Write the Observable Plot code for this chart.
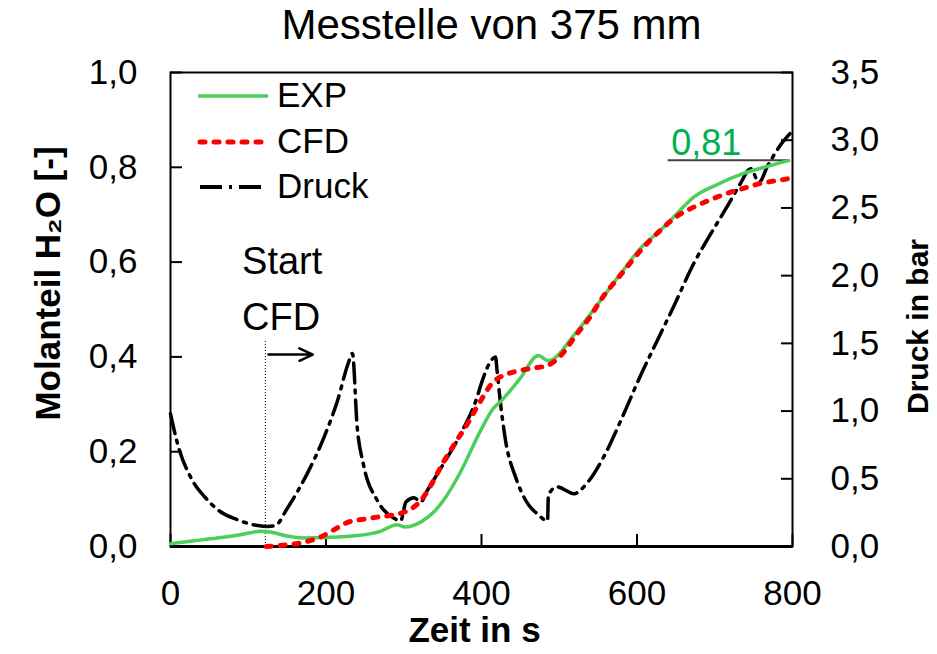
<!DOCTYPE html>
<html>
<head>
<meta charset="utf-8">
<script src="https://cdn.jsdelivr.net/npm/d3@7"></script>
<script src="https://cdn.jsdelivr.net/npm/@observablehq/plot@0.6"></script>
<style>
  html, body { margin: 0; padding: 0; background: #fff; }
  body { font-family: "Liberation Sans", Arial, sans-serif; }
  #wrap { position: relative; width: 937px; height: 654px; overflow: hidden; }
  #title { height: 50px; line-height: 50px; font-size: 42px; text-align: center; width: 937px; position: relative; left: 23px; color: #000; }
  #legend { position: absolute; left: 0; top: 0; pointer-events: none; }
</style>
</head>
<body>
<div id="wrap">
  <div id="title">Messtelle von 375 mm</div>
  <div id="chart"></div>
  <svg id="legend" width="937" height="654"></svg>
</div>
<script>
// ---- Data ----
const titleText = "Messtelle von 375 mm";
const xLabel = "Zeit in s";
const yLabel = "Molanteil H\u2082O [-]";
const y2Label = "Druck in bar";

const xTicks = [0, 200, 400, 600, 800];
const yTicks = [0, 0.2, 0.4, 0.6, 0.8, 1.0];
const pressureTicks = [0, 0.5, 1.0, 1.5, 2.0, 2.5, 3.0, 3.5];
const pressureMax = 3.5;

// EXP (measured mole fraction H2O)
const expTime = [0, 30, 60, 90, 116, 130, 150, 171, 200, 240, 270, 291, 302, 315, 325, 340, 351, 372, 399, 415, 424, 450, 473, 486, 520, 553, 580, 605, 630, 650, 673, 705, 737, 770, 795];
const expValue = [0.006, 0.012, 0.018, 0.025, 0.032, 0.030, 0.022, 0.018, 0.019, 0.023, 0.032, 0.046, 0.041, 0.046, 0.055, 0.075, 0.097, 0.154, 0.245, 0.291, 0.305, 0.355, 0.403, 0.392, 0.448, 0.519, 0.578, 0.630, 0.667, 0.700, 0.737, 0.765, 0.787, 0.803, 0.814];

// CFD (simulated mole fraction H2O)
const cfdTime = [123, 141, 171, 193, 210, 228, 250, 266, 296, 310, 322, 337, 351, 366, 382, 398, 415, 430, 446, 465, 485, 502, 523, 540, 553, 580, 605, 630, 650, 673, 695, 716, 740, 759, 780, 795];
const cfdValue = [0.000, 0.002, 0.009, 0.020, 0.035, 0.051, 0.058, 0.062, 0.070, 0.080, 0.097, 0.135, 0.178, 0.218, 0.259, 0.305, 0.347, 0.362, 0.370, 0.376, 0.382, 0.403, 0.449, 0.485, 0.519, 0.575, 0.625, 0.667, 0.695, 0.716, 0.732, 0.745, 0.757, 0.766, 0.772, 0.776];

// Druck (pressure, bar, right axis)
const druckTime = [0, 9, 28, 45, 62, 85, 112, 125, 135, 150, 176, 197, 215, 229, 234, 240, 248, 266, 287, 296, 303, 313, 322, 330, 351, 373, 395, 399, 415, 418, 420, 424, 431, 444, 459, 472, 485, 486, 497, 519, 536, 557, 583, 602, 626, 647, 673, 695, 720, 733, 746, 757, 768, 784, 797];
const druckBar = [0.98, 0.76, 0.49, 0.36, 0.266, 0.20, 0.155, 0.148, 0.155, 0.28, 0.54, 0.80, 1.08, 1.36, 1.425, 0.89, 0.61, 0.34, 0.21, 0.19, 0.33, 0.36, 0.33, 0.41, 0.61, 0.83, 1.115, 1.19, 1.39, 1.40, 1.30, 1.08, 0.78, 0.51, 0.32, 0.24, 0.19, 0.38, 0.44, 0.39, 0.47, 0.66, 0.98, 1.23, 1.52, 1.77, 2.09, 2.31, 2.55, 2.68, 2.79, 2.69, 2.81, 2.96, 3.05];

// Annotations
const startCfdTime = 122;
const startCfdTop = 0.435;
const startCfdText = ["Start", "CFD"];
const startCfdTextTime = [92, 92];
const startCfdTextValue = [0.600, 0.483];
const arrowFrom = 126, arrowTo = 183, arrowValue = 0.405;
const endLabel = "0,81";
const endLineFrom = 640, endLineTo = 797, endLineValue = 0.815;
const endLabelTime = 644, endLabelValue = 0.850;

// Legend
const legendNames = ["EXP", "CFD", "Druck"];

// ---- Build ----
const fmt1 = d => d.toFixed(1).replace(".", ",");
const exp = expTime.map((t, i) => ({t, v: expValue[i]}));
const cfd = cfdTime.map((t, i) => ({t, v: cfdValue[i]}));
const druck = druckTime.map((t, i) => ({t, v: druckBar[i] / pressureMax}));

const GREEN = "#4ccf5a", RED = "#ff0000", BLACK = "#000000";
const redDash = "5,9", blackDash = "20,7,3,7";

const chart = Plot.plot({
  width: 937,
  height: 604,
  marginTop: 22,
  marginBottom: 108,
  marginLeft: 170,
  marginRight: 145,
  style: {fontFamily: "'Liberation Sans', Arial, sans-serif", fontSize: "35px", color: "#000", background: "#fff", overflow: "visible"},
  x: {domain: [0, 800]},
  y: {domain: [0, 1]},
  marks: [
    Plot.axisX({ticks: xTicks, tickSize: -12, tickPadding: 46, tickFormat: d => String(d), label: null, strokeWidth: 2, fontSize: 35}),
    Plot.axisY({anchor: "left", ticks: yTicks, tickSize: -12, tickPadding: 45, tickFormat: fmt1, label: null, strokeWidth: 2, fontSize: 35}),
    Plot.axisY({anchor: "right", ticks: pressureTicks.map(p => p / pressureMax), tickSize: -12, tickPadding: 50, tickFormat: d => fmt1(d * pressureMax), label: null, strokeWidth: 2, fontSize: 35}),
    Plot.frame({stroke: "#000", strokeWidth: 2}),
    Plot.ruleY([0], {stroke: "#000", strokeWidth: 3}),
    // Start CFD marker
    Plot.ruleX([startCfdTime], {y1: 0, y2: startCfdTop, stroke: "#000", strokeWidth: 1, strokeDasharray: "1,2"}),
    Plot.arrow([{x1: arrowFrom, x2: arrowTo, y: arrowValue}], {x1: "x1", x2: "x2", y1: "y", y2: "y", stroke: "#000", strokeWidth: 2.5, headLength: 12, headAngle: 50}),
    Plot.text(startCfdText, {x: (d, i) => startCfdTextTime[i], y: (d, i) => startCfdTextValue[i], text: d => d, textAnchor: "start", lineAnchor: "middle", fontSize: 38, fill: "#000"}),
    // End value annotation
    Plot.ruleY([endLineValue], {x1: endLineFrom, x2: endLineTo, stroke: "#404040", strokeWidth: 2}),
    Plot.text([endLabel], {x: endLabelTime, y: endLabelValue, text: d => d, textAnchor: "start", lineAnchor: "middle", fontSize: 36, fill: "#00b050"}),
    // Series
    Plot.line(druck, {x: "t", y: "v", stroke: BLACK, strokeWidth: 3.5, strokeDasharray: blackDash, curve: "monotone-x"}),
    Plot.line(exp, {x: "t", y: "v", stroke: GREEN, strokeWidth: 3.5, curve: "monotone-x"}),
    Plot.line(cfd, {x: "t", y: "v", stroke: RED, strokeWidth: 5, strokeDasharray: redDash, strokeLinecap: "round", curve: "monotone-x"}),
    // Axis titles
    Plot.text([xLabel], {frameAnchor: "bottom", dx: -7, dy: 71, textAnchor: "middle", lineAnchor: "top", fontWeight: "bold", fontSize: 35, text: d => d}),
    Plot.text([yLabel], {frameAnchor: "left", dx: -122, dy: -26, rotate: -90, textAnchor: "middle", lineAnchor: "middle", fontWeight: "bold", fontSize: 35, text: d => d}),
    Plot.text([y2Label], {frameAnchor: "right", dx: 126, dy: 17, rotate: -90, textAnchor: "middle", lineAnchor: "middle", fontWeight: "bold", fontSize: 30, text: d => d})
  ]
});
document.getElementById("chart").appendChild(chart);

// Legend overlay (page coordinates of the legend box)
const lg = d3.select("#legend");
const legendStyles = [
  {stroke: GREEN, width: 3.5, dash: null, cap: "butt", x1: 198, x2: 268},
  {stroke: RED, width: 5, dash: redDash, cap: "round", x1: 200, x2: 270},
  {stroke: BLACK, width: 4, dash: "22,7,3,7", cap: "butt", x1: 200, x2: 262}
];
const legendY = [96, 142, 187];
legendNames.forEach((name, i) => {
  const s = legendStyles[i];
  lg.append("line").attr("x1", s.x1).attr("x2", s.x2).attr("y1", legendY[i]).attr("y2", legendY[i])
    .attr("stroke", s.stroke).attr("stroke-width", s.width).attr("stroke-dasharray", s.dash).attr("stroke-linecap", s.cap);
  lg.append("text").attr("x", 277).attr("y", legendY[i] + 11).attr("font-size", 35)
    .attr("font-family", "'Liberation Sans', Arial, sans-serif").attr("fill", "#000").text(name);
});
</script>
</body>
</html>
